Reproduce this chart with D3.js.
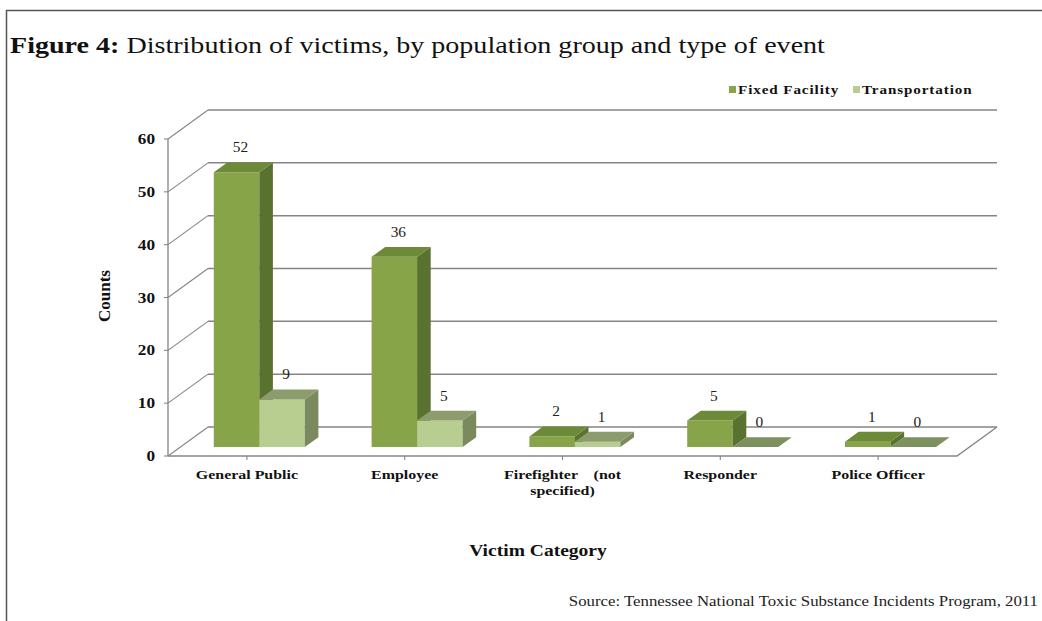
<!DOCTYPE html>
<html><head><meta charset="utf-8">
<script src="https://cdn.jsdelivr.net/npm/d3@7"></script>
<style>body{margin:0;background:#fff;} svg{display:block;}</style>
</head><body>
<svg id="c" width="1042" height="621"></svg>
<script>
const categories = ["General Public","Employee","Firefighter (not specified)","Responder","Police Officer"];
const categoryLines = [["General Public"],["Employee"],["Firefighter    (not","specified)"],["Responder"],["Police Officer"]];
const seriesNames = ["Fixed Facility","Transportation"];
const fixedFacility = [52,36,2,5,1];
const transportation = [9,5,1,0,0];
const yTicks = [0,10,20,30,40,50,60];

const svg = d3.select("#c");
const font = "'Liberation Serif','Times New Roman',serif";
const SX = 1.18; // horizontal stretch of the original's text

// helper: text stretched horizontally, anchored at (x,y)
function stext(parent, x, y, sx) {
  return parent.append("text").attr("transform",`translate(${x},${y}) scale(${sx},1)`).attr("x",0).attr("y",0);
}

// frame
svg.append("path").attr("d","M6.5,621 V10.5 H1042").attr("fill","none").attr("stroke","#555").attr("stroke-width",1.5);

// title
const t = stext(svg, 10, 53, 1.17).attr("font-family",font).attr("font-size",24).attr("fill","#111");
t.append("tspan").attr("font-weight","bold").text("Figure 4:");
t.append("tspan").text(" Distribution of victims, by population group and type of event");

// geometry
const x0 = 168, x1 = 957;
const DX = 40, DY = -29;
const y = d3.scaleLinear().domain([0,60]).range([456,139]);
const xc = d3.scaleBand().domain(categories).range([x0,x1]).padding(0);
const xs = d3.scaleBand().domain(seriesNames).range([0,xc.bandwidth()]).paddingInner(0).paddingOuter(0.734);
const proj = (px, v, d) => [px + d*DX, y(v) + d*DY];

const grid = svg.append("g").attr("stroke","#858585").attr("fill","none");
yTicks.forEach(v => {
  const a = proj(x0, v, 1), b = proj(x1, v, 1);
  grid.append("line").attr("x1",a[0]).attr("y1",a[1]).attr("x2",b[0]).attr("y2",b[1]).attr("stroke-width",1.5);
  const f = proj(x0, v, 0);
  grid.append("line").attr("x1",f[0]).attr("y1",f[1]).attr("x2",a[0]).attr("y2",a[1]).attr("stroke-width",1.1);
  grid.append("line").attr("x1",f[0]-4).attr("y1",f[1]).attr("x2",f[0]).attr("y2",f[1]).attr("stroke-width",1.1);
});
{
  const fa = proj(x0,0,0), fb = proj(x1,0,0), bb = proj(x1,0,1);
  grid.append("path").attr("d",`M${fa[0]},${fa[1]} L${fb[0]},${fb[1]} L${bb[0]},${bb[1]}`).attr("stroke-width",1.4);
  grid.append("line").attr("x1",x0).attr("y1",y(60)).attr("x2",x0).attr("y2",y(0)).attr("stroke-width",1.3);
  categories.forEach(c => {
    const cx = xc(c) + xc.bandwidth()/2;
    grid.append("line").attr("x1",cx).attr("y1",y(0)).attr("x2",cx).attr("y2",y(0)+4).attr("stroke-width",1.1);
  });
}

// y tick labels
const yl = svg.append("g").attr("font-family",font).attr("font-weight","bold").attr("font-size",15).attr("fill","#111").attr("text-anchor","end");
yTicks.forEach(v => stext(yl, 155, y(v)+5, 1.15).text(v));

// bars
const d0 = 0.31, d1 = 0.65;
const colors = {
  "Fixed Facility": {front:"#87a449", side:"#5a7230", top:"#6c8a37"},
  "Transportation": {front:"#b8cd90", side:"#7a8a5e", top:"#8c9c6c"}
};
const bars = svg.append("g");
const labels = svg.append("g").attr("font-family",font).attr("font-size",14).attr("fill","#222").attr("text-anchor","middle");
categories.forEach((c,i) => {
  [["Fixed Facility", fixedFacility[i]], ["Transportation", transportation[i]]].forEach(([s,v]) => {
    const xl = xc(c) + xs(s), xr = xl + xs.bandwidth();
    const col = colors[s];
    const p = (px,val,d) => proj(px,val,d).join(",");
    if (v > 0) {
      bars.append("path").attr("d",`M${p(xl,0,d0)} L${p(xr,0,d0)} L${p(xr,v,d0)} L${p(xl,v,d0)} Z`).attr("fill",col.front);
      bars.append("path").attr("d",`M${p(xr,0,d0)} L${p(xr,0,d1)} L${p(xr,v,d1)} L${p(xr,v,d0)} Z`).attr("fill",col.side);
    }
    bars.append("path").attr("d",`M${p(xl,v,d0)} L${p(xr,v,d0)} L${p(xr,v,d1)} L${p(xl,v,d1)} Z`).attr("fill", v>0 ? col.top : "#7d9060");
    const ft = proj((xl+xr)/2, v, d0);
    stext(labels, ft[0]+4, ft[1]-20, 1.1).text(v);
  });
});

// category labels
const cl = svg.append("g").attr("font-family",font).attr("font-weight","bold").attr("font-size",13.5).attr("fill","#111").attr("text-anchor","middle");
categories.forEach((c,i) => {
  const cx = xc(c) + xc.bandwidth()/2;
  const tx = stext(cl, cx, 479, SX).attr("xml:space","preserve");
  categoryLines[i].forEach((ln,j) => tx.append("tspan").attr("x",0).attr("dy", j===0?0:16).text(ln));
});

// axis titles
svg.append("text").attr("transform","translate(110,296) rotate(-90)").attr("text-anchor","middle")
  .attr("font-family",font).attr("font-weight","bold").attr("font-size",17).attr("fill","#111").text("Counts");
stext(svg, 538, 556, 1.15).attr("text-anchor","middle")
  .attr("font-family",font).attr("font-weight","bold").attr("font-size",17).attr("fill","#111").text("Victim Category");

// legend
const lg = svg.append("g").attr("font-family",font).attr("font-weight","bold").attr("font-size",13.5).attr("fill","#111");
const lx = [729, 853];
seriesNames.forEach((s,i) => {
  lg.append("rect").attr("x",lx[i]).attr("y",86).attr("width",7).attr("height",7).attr("fill", i===0?"#87a449":"#b8cd90");
  stext(lg, lx[i]+9, 94, 1.12).attr("letter-spacing",0.8).text(s);
});

// source
stext(svg, 1038, 606, 1.2).attr("text-anchor","end")
  .attr("font-family",font).attr("font-size",14).attr("fill","#222")
  .text("Source: Tennessee National Toxic  Substance Incidents Program,  2011");
</script>
</body></html>
